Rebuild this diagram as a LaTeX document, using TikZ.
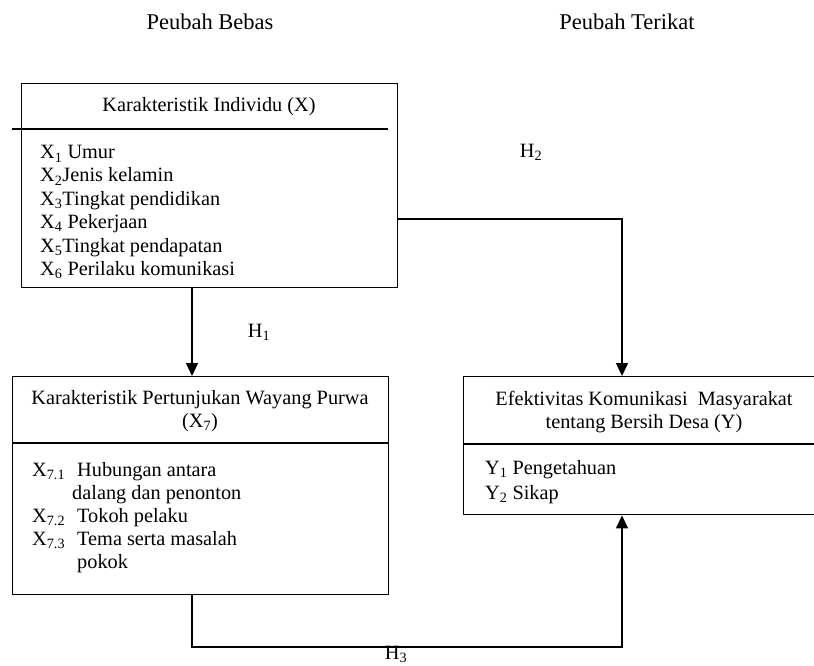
\documentclass[tikz,border=0pt]{standalone}
\usepackage{fontspec}
\setmainfont{Liberation Serif}
\usetikzlibrary{arrows.meta}
\newcommand{\sbx}[1]{\textsubscript{#1}}
\tikzset{
  x=1pt,y=-1pt,
  boxline/.style={draw=black,line width=1.4pt},
  frame/.style={boxline,rectangle,inner sep=0pt,anchor=north west},
  txt/.style={font=\fontsize{20.3}{23.4}\selectfont,inner sep=0pt},
  lst/.style={txt,anchor=base west},
  hdr/.style={font=\fontsize{22.5}{26}\selectfont,inner sep=0pt},
  conn/.style={draw=black,line width=1.4pt},
  arr/.style={conn,-{Triangle[length=13pt,width=12pt]}},
}
\begin{document}
\begin{tikzpicture}
\useasboundingbox (0,0) rectangle (814,666);
\clip (0,0) rectangle (814,666);
% headers
\node[hdr] (hb) at (210,22) {Peubah Bebas};
\node[hdr] (ht) at (627,22) {Peubah Terikat};
% box 1
\node[frame,minimum width=376pt,minimum height=204pt] (b1) at (21,83) {};
\draw[boxline] (12,129) -- (388,129);
\node[txt] (t1) at (209,107) {Karakteristik Individu (X)};
\node[lst] (l1a) at (40,159) {X\sbx{1} Umur};
\node[lst] (l1b) at (40,182) {X\sbx{2}Jenis kelamin};
\node[lst] (l1c) at (40,205) {X\sbx{3}Tingkat pendidikan};
\node[lst] (l1d) at (40,228) {X\sbx{4} Pekerjaan};
\node[lst] (l1e) at (40,252) {X\sbx{5}Tingkat pendapatan};
\node[lst] (l1f) at (40,275) {X\sbx{6} Perilaku komunikasi};
% box 2
\node[frame,minimum width=376pt,minimum height=218pt] (b2) at (12,376) {};
\draw[boxline] (12,443) -- (388,443);
\node[txt,align=center] (t2) at (200,411) {Karakteristik Pertunjukan Wayang Purwa\\(X\sbx{7})};
\node[lst] (l2a) at (32,476) {X\sbx{7.1}};
\node[lst] (l2b) at (77,476) {Hubungan antara};
\node[lst] (l2c) at (72,499) {dalang dan penonton};
\node[lst] (l2d) at (32,522) {X\sbx{7.2}};
\node[lst] (l2e) at (77,522) {Tokoh pelaku};
\node[lst] (l2f) at (32,545) {X\sbx{7.3}};
\node[lst] (l2g) at (77,545) {Tema serta masalah};
\node[lst] (l2h) at (77,568) {pokok};
% box 3
\node[frame,minimum width=360pt,minimum height=138pt] (b3) at (463,376) {};
\draw[boxline] (463,444) -- (830,444);
\node[txt,align=center] (t3) at (644,412) {Efektivitas Komunikasi\ \ Masyarakat\\tentang Bersih Desa (Y)};
\node[lst] (l3a) at (485,474) {Y\sbx{1} Pengetahuan};
\node[lst] (l3b) at (485,499) {Y\sbx{2} Sikap};
% connectors
\coordinate (xa) at (192,0);
\coordinate (xb) at (622,0);
\coordinate (yh2) at (0,219);
\coordinate (yh3) at (0,647);
\draw[arr] (b1.south -| xa) -- (b2.north -| xa);
\draw[arr] (b1.east |- yh2) -- (xb |- yh2) -- (b3.north -| xb);
\draw[arr] (b2.south -| xa) -- (xa |- yh3) -- (xb |- yh3) -- (b3.south -| xb);
% labels
\node[txt] (h1) at (259,332) {H\sbx{1}};
\node[txt] (h2) at (531,152) {H\sbx{2}};
\node[txt] (h3) at (396,654) {H\sbx{3}};
\end{tikzpicture}
\end{document}
